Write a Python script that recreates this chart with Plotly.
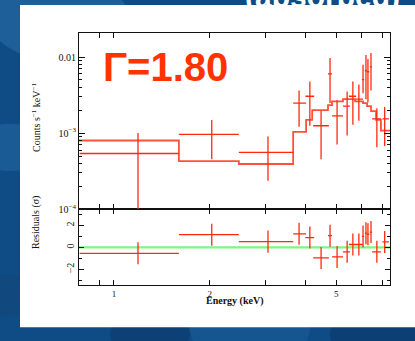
import plotly.graph_objects as go

# ---- data ----
energy = [1.19, 2.03, 3.05, 3.82, 4.13, 4.48, 4.78, 5.03, 5.41, 5.64, 5.89, 6.07, 6.20, 6.29, 6.43, 6.71, 7.10]
e_lo = [0.78, 1.60, 2.47, 3.66, 4.00, 4.23, 4.71, 4.85, 5.25, 5.48, 5.77, 6.02, 6.15, 6.25, 6.38, 6.48, 6.98]
e_hi = [1.60, 2.47, 3.66, 4.02, 4.26, 4.74, 4.85, 5.25, 5.52, 5.77, 6.07, 6.12, 6.25, 6.35, 6.48, 6.91, 7.32]
rate = [5.4e-4, 9.6e-4, 5.6e-4, 2.48e-3, 3.05e-3, 1.25e-3, 6.0e-3, 1.68e-3, 2.26e-3, 3.05e-3,
        2.79e-3, 5.05e-3, 6.6e-3, 6.4e-3, 7.4e-3, 1.54e-3, 1.54e-3]
rate_lo = [1.0e-4, 4.55e-4, 2.37e-4, 1.21e-3, 1.25e-3, 4.55e-4, 2.48e-3, 7.1e-4, 9.3e-4, 1.29e-3,
           1.45e-3, 3.33e-3, 2.79e-3, 2.55e-3, 3.64e-3, 6.5e-4, 6.8e-4]
rate_hi = [1.0e-3, 1.49e-3, 9.0e-4, 3.64e-3, 4.75e-3, 1.95e-3, 9.7e-3, 2.70e-3, 3.53e-3, 4.75e-3,
           4.35e-3, 7.9e-3, 1.06e-2, 9.4e-3, 1.13e-2, 2.13e-3, 2.2e-3]
resid = [-0.53, 1.16, 0.53, 1.24, 0.9, -0.95, 1.07, -0.86, -0.4, 0.27, 0.27, 1.0, 1.3, 1.2, 1.4, -0.4, 0.5]
resid_err = [1.0] * len(resid)

model_edges = [0.776, 1.60, 2.47, 3.66, 4.02, 4.20, 4.71, 4.85, 5.25, 5.73, 6.07, 6.25, 6.43, 6.67, 6.91, 7.38]
model_vals = [8.0e-4, 4.28e-4, 3.93e-4, 1.04e-3, 1.49e-3, 2.01e-3, 2.33e-3, 2.62e-3, 2.79e-3,
              2.62e-3, 2.48e-3, 2.26e-3, 1.95e-3, 1.49e-3, 1.08e-3]

x_tickvals = [0.9, 1, 2, 3, 4, 5, 6, 7]
x_ticktext = ["", "1", "2", "", "", "5", "", ""]
y_tickvals = [1e-4, 1e-3, 1e-2]
y_ticktext = ["10<sup>\u22124</sup>", "10<sup>\u22123</sup>", "0.01"]
r_tickvals = [-2, 0, 2]
r_ticktext = ["\u22122", "0", "2"]

title_text = "\u0393=1.80"
slide_text = "(absorbed)"

# ---- styling ----
W, H = 415, 341
RED = "#ff2a0a"
BLUE = "#0f4c86"
SERIF = "Liberation Serif, DejaVu Serif, serif"

def px(x):
    return x / W

def py(y):
    return (H - y) / H

xl, xr = px(79), px(390)


def cross_segments(xc, xlo, xhi, yc, ylo, yhi):
    """Build cross line segments (None-separated) from data values."""
    xs, ys = [], []
    for a, b, c, d, e, f in zip(xc, xlo, xhi, yc, ylo, yhi):
        xs += [b, c, None, a, a, None]
        ys += [d, d, None, e, f, None]
    return xs, ys


fig = go.Figure()

# model step
fig.add_trace(go.Scatter(
    x=model_edges, y=model_vals + [model_vals[-1]], mode="lines", line_shape="hv",
    line=dict(color="rgba(255,50,20,0.85)", width=1.8), xaxis="x2", yaxis="y2", hoverinfo="skip"))

# data crosses (top)
sx, sy = cross_segments(energy, e_lo, e_hi, rate, rate_lo, rate_hi)
fig.add_trace(go.Scatter(x=sx, y=sy, mode="lines", line=dict(color=RED, width=1.3),
                         connectgaps=False, xaxis="x2", yaxis="y2"))

# residual crosses
r_lo = [r - e for r, e in zip(resid, resid_err)]
r_hi = [r + e for r, e in zip(resid, resid_err)]
rx, ry = cross_segments(energy, e_lo, e_hi, resid, r_lo, r_hi)
fig.add_trace(go.Scatter(x=rx, y=ry, mode="lines", line=dict(color=RED, width=1.3),
                         connectgaps=False, xaxis="x", yaxis="y"))

axis_common = dict(showline=True, linecolor="#111", linewidth=1, mirror="ticks",
                   ticks="inside", tickcolor="#111", showgrid=False, zeroline=False)
tickfont = dict(family=SERIF, size=10, color="#111")

# soft mottling of the slide background
blobs = [(60, 20, 70, "rgba(60,130,190,0.35)"), (10, 150, 40, "rgba(50,120,180,0.35)"),
         (5, 300, 35, "rgba(20,70,120,0.5)"), (250, 335, 60, "rgba(40,110,170,0.3)"),
         (380, 340, 50, "rgba(10,50,95,0.5)"), (150, 340, 40, "rgba(10,50,95,0.4)")]
shapes = []
for bx, by, br, col in blobs:
    shapes.append(dict(type="circle", xref="paper", yref="paper",
                       x0=px(bx - br), x1=px(bx + br), y0=py(by + br * 0.6), y1=py(by - br * 0.6),
                       fillcolor=col, line=dict(width=0), layer="below"))
shapes += [
    dict(type="rect", xref="paper", yref="paper", x0=px(20), x1=1.0, y0=py(333), y1=py(5),
         fillcolor="white", line=dict(width=0), layer="below"),
    dict(type="line", xref="x domain", yref="y", x0=0, x1=1, y0=0, y1=0,
         line=dict(color="rgba(120,245,120,0.95)", width=2.2), layer="below"),
]

fig.update_layout(
    width=W, height=H, margin=dict(l=0, r=0, t=0, b=0),
    paper_bgcolor=BLUE, plot_bgcolor="white", showlegend=False,
    xaxis=dict(domain=[xl, xr], anchor="y", type="log",
               range=[-0.110, 0.868], tickvals=x_tickvals, ticktext=x_ticktext, ticklen=5,
               tickfont=dict(family=SERIF, size=9, color="#111"), **axis_common),
    xaxis2=dict(domain=[xl, xr], anchor="y2", type="log", matches="x",
                range=[-0.110, 0.868], tickvals=x_tickvals, ticklen=5, showticklabels=False,
                **axis_common),
    yaxis=dict(domain=[py(290), py(213)], anchor="x", range=[-3.4, 3.47],
               tickvals=r_tickvals, ticktext=r_ticktext, ticklen=5, tickangle=-90, tickfont=tickfont,
               minor=dict(tickvals=[-3, -1, 1, 3], ticks="inside", ticklen=3, tickcolor="#111"),
               **axis_common),
    yaxis2=dict(domain=[py(213), py(34)], anchor="x2", type="log", range=[-4, -1.69],
                tickvals=y_tickvals, ticktext=y_ticktext, ticklen=6, tickfont=tickfont,
                minor=dict(tickvals=[k * 1e-4 for k in range(2, 10)] + [k * 1e-3 for k in range(2, 10)] + [2e-2],
                           ticks="inside", ticklen=3, tickcolor="#111"),
                **axis_common),
    shapes=shapes,
    annotations=[
        dict(text=title_text, xref="paper", yref="paper", x=px(101), y=py(68),
             xanchor="left", yanchor="middle", showarrow=False,
             font=dict(family="Liberation Sans, Arial, sans-serif", size=40, color="#ff3300", weight="bold")),
        dict(text=slide_text, xref="paper", yref="paper", x=px(322), y=py(15),
             xanchor="center", yanchor="bottom", showarrow=False,
             font=dict(family="Liberation Sans, Arial, sans-serif", size=30, color="white", weight="bold")),
        dict(text="Counts s<sup>\u22121</sup> keV<sup>\u22121</sup>", xref="paper", yref="paper",
             x=px(28), y=py(120), textangle=-90, showarrow=False,
             font=dict(family=SERIF, size=10, color="#111")),
        dict(text="Residuals (\u03c3)", xref="paper", yref="paper",
             x=px(28), y=py(256), textangle=-90, showarrow=False,
             font=dict(family=SERIF, size=10, color="#111")),
        dict(text="<b>Energy (keV)</b>", xref="paper", yref="paper",
             x=px(235), y=py(315), showarrow=False,
             font=dict(family=SERIF, size=10, color="#111")),
    ],
)

fig.write_html("out.html")
